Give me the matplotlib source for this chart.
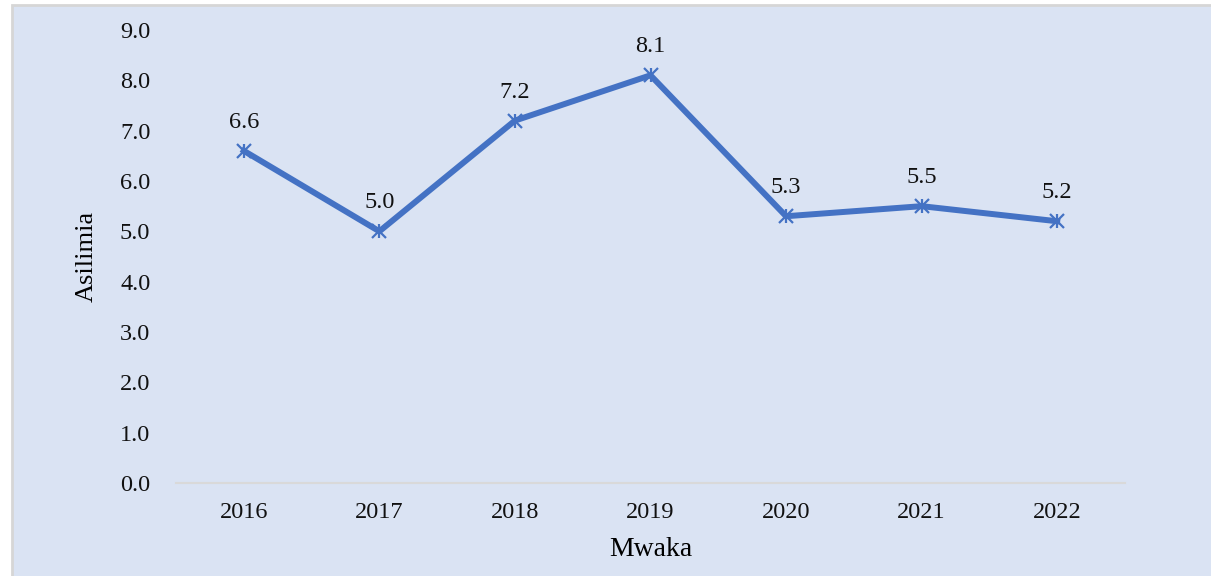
import matplotlib
matplotlib.use("Agg")
import matplotlib.pyplot as plt
from matplotlib.patches import Rectangle

years = ["2016", "2017", "2018", "2019", "2020", "2021", "2022"]
values = [6.6, 5.0, 7.2, 8.1, 5.3, 5.5, 5.2]
yticks = [0, 1, 2, 3, 4, 5, 6, 7, 8, 9]

plt.rcParams["font.family"] = ["Liberation Serif", "DejaVu Serif"]

W, H = 1211, 576
fig = plt.figure(figsize=(W / 100, H / 100), dpi=100, facecolor="white")

# blue panel with thin grey border (drawn under the axes)
fig.patches.append(Rectangle((12 / W, -0.01), 1.0, (H - 5) / H + 0.01,
                             transform=fig.transFigure, facecolor="#DAE3F3",
                             edgecolor="#D6D6D6", linewidth=2, zorder=-1))

ax = fig.add_axes([176 / W, (H - 483) / H, (1125 - 176) / W, (483 - 30) / H])
ax.set_facecolor("none")

blue = "#4472C4"
x = list(range(len(years)))
ax.plot(x, values, color=blue, linewidth=4.3, zorder=3)
# excel style star marker: an x with a vertical bar through it
ax.plot(x, values, linestyle="none", marker="x", color=blue,
        markersize=10, markeredgewidth=1.6, zorder=4)
ax.plot(x, values, linestyle="none", marker="|", color=blue,
        markersize=10, markeredgewidth=1.6, zorder=4)

for xi, v in zip(x, values):
    ax.annotate(f"{v:.1f}", (xi, v), xytext=(0, 16.5), textcoords="offset points",
                ha="center", va="baseline", fontsize=17.5, color="#111111")

ax.set_xlim(-0.5, len(years) - 0.5)
ax.set_ylim(0, 9)
ax.set_xticks(x)
ax.set_xticklabels(years)
ax.set_yticks(yticks)
ax.set_yticklabels([f"{t:.1f}" for t in yticks])
ax.tick_params(axis="both", length=0, labelsize=17.5, colors="#111111")
ax.tick_params(axis="x", pad=14)
ax.tick_params(axis="y", pad=18.5)

for s in ["top", "right", "left"]:
    ax.spines[s].set_visible(False)
ax.spines["bottom"].set_color("#D9D9D9")
ax.spines["bottom"].set_linewidth(1.5)

ax.set_xlabel("Mwaka", fontsize=20, labelpad=10)
ax.set_ylabel("Asilimia", fontsize=19, labelpad=16)

fig.savefig("out.png", dpi=100, facecolor=fig.get_facecolor())
